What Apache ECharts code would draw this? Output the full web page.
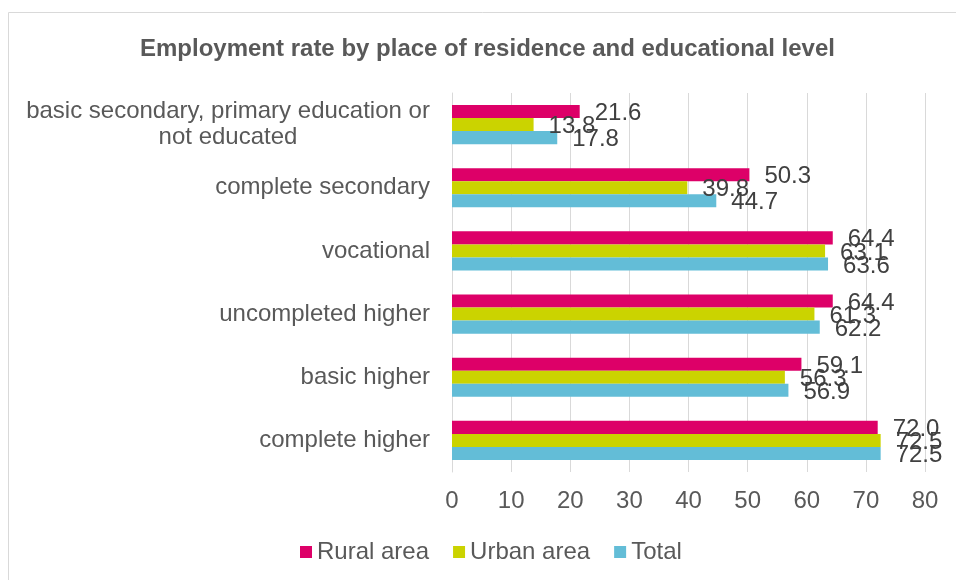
<!DOCTYPE html>
<html>
<head>
<meta charset="utf-8">
<script src="https://cdn.jsdelivr.net/npm/echarts@6/dist/echarts.min.js"></script>
<style>
  html, body { margin: 0; padding: 0; background: #fff; }
  #chart { width: 956px; height: 580px; }
</style>
</head>
<body>
<div id="chart"></div>
<script>
// Education levels, top to bottom
const categories = [
  'basic secondary, primary education or\nnot educated',
  'complete secondary',
  'vocational',
  'uncompleted higher',
  'basic higher',
  'complete higher'
];
const ruralArea = [21.6, 50.3, 64.4, 64.4, 59.1, 72.0];
const urbanArea = [13.8, 39.8, 63.1, 61.3, 56.3, 72.5];
const totalValues = [17.8, 44.7, 63.6, 62.2, 56.9, 72.5];
const xTicks = { min: 0, max: 80, interval: 10 };

const textGray = '#595959';
const gridGray = '#d9d9d9';
const fontFamily = 'Liberation Sans, Arial, sans-serif';

function barSeries(name, data, color) {
  return {
    name: name,
    type: 'bar',
    data: data,
    barGap: '0%',
    barCategoryGap: '38%',
    itemStyle: { color: color },
    label: {
      show: true,
      position: 'right',
      distance: 15,
      offset: [0, 2],
      color: '#404040',
      fontFamily: fontFamily,
      fontSize: 24,
      formatter: p => p.value.toFixed(1)
    }
  };
}

const chart = echarts.init(document.getElementById('chart'));
chart.setOption({
  animation: false,
  title: {
    text: 'Employment rate by place of residence and educational level',
    left: 135,
    top: 32,
    textStyle: {
      color: textGray,
      fontFamily: fontFamily,
      fontSize: 24,
      fontWeight: 'bold'
    }
  },
  graphic: [{
    type: 'rect',
    shape: { x: 8.5, y: 12.5, width: 1000, height: 700 },
    style: { fill: 'none', stroke: gridGray, lineWidth: 1 },
    silent: true
  }],
  legend: {
    left: 295,
    top: 535,
    icon: 'rect',
    itemWidth: 12,
    itemHeight: 12,
    itemGap: 24,
    textStyle: {
      color: textGray,
      fontFamily: fontFamily,
      fontSize: 24
    },
    data: ['Rural area', 'Urban area', 'Total']
  },
  grid: { left: 452, right: 31, top: 93, bottom: 108, containLabel: false },
  xAxis: {
    type: 'value',
    min: xTicks.min,
    max: xTicks.max,
    interval: xTicks.interval,
    axisLine: { show: false },
    axisTick: { show: false },
    splitLine: { show: true, lineStyle: { color: gridGray, width: 1 } },
    axisLabel: {
      margin: 17,
      color: textGray,
      fontFamily: fontFamily,
      fontSize: 24
    }
  },
  yAxis: {
    type: 'category',
    inverse: true,
    data: categories,
    axisLine: { show: true, lineStyle: { color: gridGray, width: 1 } },
    axisTick: { show: false },
    axisLabel: {
      margin: 22,
      color: textGray,
      fontFamily: fontFamily,
      fontSize: 24,
      lineHeight: 26,
      formatter: v => v.indexOf('\n') >= 0
        ? v.split('\n').map(s => '{c|' + s + '}').join('\n')
        : v,
      rich: {
        c: {
          width: 404,
          align: 'center',
          color: textGray,
          fontFamily: fontFamily,
          fontSize: 24,
          lineHeight: 26
        }
      }
    }
  },
  series: [
    barSeries('Rural area', ruralArea, '#dd0068'),
    barSeries('Urban area', urbanArea, '#cbd300'),
    barSeries('Total', totalValues, '#63bdd7')
  ]
});
</script>
</body>
</html>
